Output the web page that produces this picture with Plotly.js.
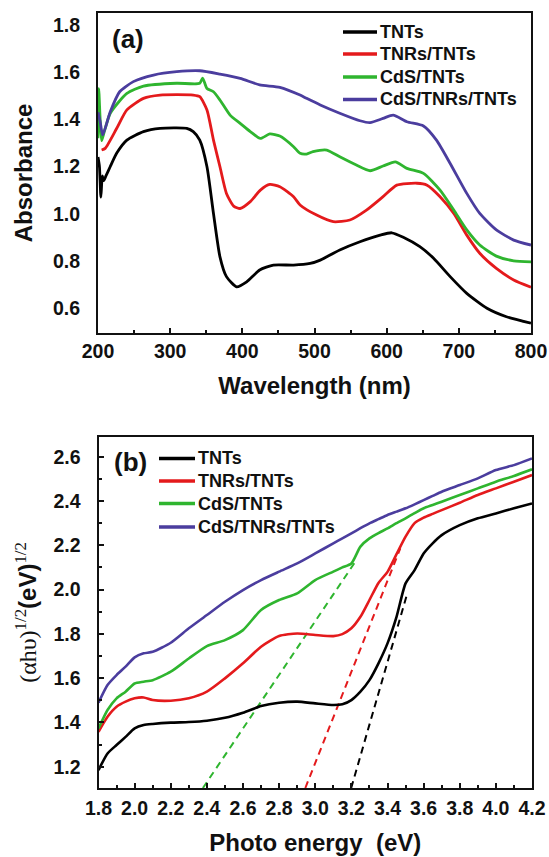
<!DOCTYPE html>
<html>
<head>
<meta charset="utf-8">
<script src="https://cdn.plot.ly/plotly-3.0.1.min.js"></script>
<style>html,body{margin:0;padding:0;background:#fff;}#chart{width:549px;height:857px;}</style>
</head>
<body>
<div id="chart"></div>
<script>
// ---------- Panel (a): absorbance vs wavelength ----------
const seriesNames = ["TNTs", "TNRs/TNTs", "CdS/TNTs", "CdS/TNRs/TNTs"];
const seriesColors = ["#000000", "#e41a1c", "#2fb52f", "#4b3d9e"];

const tntsWl = [200,202,204,206,208,211,217,226,240,263,286,323,332,341,351,360,369,378,392,406,424,443,471,494,508,535,563,591,607,623,646,665,688,711,739,766,800];
const tntsAbs = [1.24,1.20,1.07,1.16,1.14,1.16,1.20,1.257,1.312,1.348,1.362,1.362,1.348,1.312,1.199,1.001,0.817,0.733,0.69,0.711,0.761,0.782,0.782,0.789,0.803,0.846,0.881,0.909,0.919,0.90,0.86,0.811,0.733,0.662,0.599,0.563,0.536];

const tnrsWl = [205,210,226,240,263,286,332,341,351,360,369,378,388,397,411,425,438,452,471,480,503,526,549,572,595,614,642,656,674,693,711,729,752,776,800];
const tnrsAbs = [1.27,1.277,1.362,1.44,1.489,1.503,1.503,1.496,1.44,1.312,1.199,1.086,1.032,1.022,1.051,1.10,1.124,1.114,1.072,1.037,0.994,0.966,0.973,1.015,1.072,1.121,1.129,1.121,1.072,1.001,0.909,0.832,0.768,0.719,0.688];

const cdsWl = [200,201,203,205,208,217,240,263,309,341,345,351,360,369,383,397,411,425,438,452,471,480,489,498,517,535,558,577,595,612,628,651,674,693,711,729,752,776,800];
const cdsAbs = [1.32,1.53,1.40,1.31,1.34,1.426,1.51,1.541,1.553,1.553,1.575,1.531,1.517,1.482,1.418,1.383,1.348,1.319,1.338,1.329,1.284,1.256,1.253,1.263,1.27,1.241,1.206,1.182,1.202,1.22,1.192,1.171,1.10,1.015,0.931,0.867,0.82,0.80,0.796];

const cdsTnrsWl = [200,203,206.5,217,230,249,277,309,341,369,397,424,452,480,489,508,535,563,577,595,609,628,651,669,688,711,729,752,776,800];
const cdsTnrsAbs = [1.43,1.39,1.334,1.432,1.517,1.56,1.588,1.602,1.606,1.592,1.574,1.546,1.536,1.503,1.489,1.461,1.426,1.394,1.386,1.404,1.418,1.39,1.372,1.312,1.213,1.086,1.001,0.931,0.888,0.867];

// ---------- Panel (b): Tauc plot ----------
const energy = [1.8,1.85,1.9,1.95,2.0,2.05,2.1,2.2,2.3,2.4,2.5,2.6,2.7,2.8,2.9,3.0,3.1,3.15,3.2,3.25,3.3,3.35,3.4,3.45,3.5,3.55,3.6,3.65,3.7,3.8,3.9,4.0,4.1,4.2];
const taucTNTs = [1.185,1.26,1.298,1.335,1.373,1.388,1.393,1.399,1.402,1.408,1.421,1.444,1.474,1.489,1.494,1.486,1.479,1.482,1.501,1.539,1.591,1.667,1.757,1.877,2.028,2.088,2.163,2.209,2.246,2.291,2.322,2.344,2.367,2.389];
const taucTNRs = [1.358,1.426,1.471,1.494,1.509,1.513,1.501,1.498,1.509,1.539,1.599,1.667,1.742,1.79,1.802,1.795,1.79,1.799,1.825,1.877,1.953,2.03,2.08,2.16,2.239,2.30,2.325,2.342,2.359,2.392,2.427,2.457,2.487,2.517];
const taucCdS = [1.373,1.456,1.509,1.539,1.576,1.584,1.591,1.629,1.689,1.745,1.772,1.817,1.908,1.953,1.983,2.043,2.081,2.10,2.118,2.194,2.231,2.255,2.276,2.30,2.322,2.345,2.367,2.382,2.397,2.427,2.457,2.487,2.513,2.543];
const taucCdSTNRs = [1.489,1.569,1.614,1.652,1.694,1.712,1.719,1.76,1.825,1.885,1.945,1.998,2.043,2.081,2.118,2.163,2.209,2.231,2.254,2.277,2.299,2.318,2.337,2.352,2.367,2.385,2.404,2.423,2.442,2.472,2.502,2.54,2.562,2.592];

// Linear extrapolation (band-gap) lines: [start, end]
const fitCdSE = [2.378, 3.222];   const fitCdSY = [1.104, 2.126];
const fitTNRsE = [2.945, 3.471];  const fitTNRsY = [1.104, 2.186];
const fitTNTsE = [3.199, 3.505];  const fitTNTsY = [1.104, 1.97];

const SANS = "Liberation Sans, Arial, sans-serif";
const SERIF = "Liberation Serif, Times New Roman, serif";
const INK = "#111";

const topX = [tntsWl, tnrsWl, cdsWl, cdsTnrsWl];
const topY = [tntsAbs, tnrsAbs, cdsAbs, cdsTnrsAbs];
const botY = [taucTNTs, taucTNRs, taucCdS, taucCdSTNRs];

const traces = [];
for (let i = 0; i < 4; i++) {
  traces.push({
    x: topX[i], y: topY[i], type: "scatter", mode: "lines", name: seriesNames[i], showlegend: false,
    line: {color: seriesColors[i], width: 2.8, shape: "spline", smoothing: 0.6},
    xaxis: "x", yaxis: "y"
  });
}
const fits = [[fitTNTsE, fitTNTsY, 0], [fitTNRsE, fitTNRsY, 1], [fitCdSE, fitCdSY, 2]];
fits.forEach(f => traces.push({
  x: f[0], y: f[1], type: "scatter", mode: "lines", showlegend: false,
  line: {color: seriesColors[f[2]], width: 2, dash: "7px,5px"},
  xaxis: "x2", yaxis: "y2"
}));
for (let i = 0; i < 4; i++) {
  traces.push({
    x: energy, y: botY[i], type: "scatter", mode: "lines", name: seriesNames[i], showlegend: false,
    line: {color: seriesColors[i], width: 2.6, shape: "spline", smoothing: 0.6},
    xaxis: "x2", yaxis: "y2"
  });
}

const tickFont = {family: SANS, size: 19.5, color: INK, weight: "bold"};
const axBase = {
  showgrid: false, zeroline: false, showline: true, linecolor: INK, linewidth: 2,
  mirror: true, tickfont: tickFont, ticks: "inside", tickcolor: INK, tickwidth: 2, ticklen: 5
};

const W = 549, H = 857;

// Hand-placed legends (pixel positions of the reference legend boxes)
const shapes = [], annotations = [];
function addLegend(lineX0, lineX1, textX, rowsY) {
  for (let i = 0; i < seriesNames.length; i++) {
    const yp = 1 - rowsY[i] / H;
    shapes.push({type: "line", xref: "paper", yref: "paper", x0: lineX0 / W, x1: lineX1 / W, y0: yp, y1: yp,
                 line: {color: seriesColors[i], width: 3.5}});
    annotations.push({text: seriesNames[i], xref: "paper", yref: "paper", x: textX / W, y: yp,
                      xanchor: "left", yanchor: "middle", showarrow: false,
                      font: {family: SANS, size: 18, color: INK, weight: "bold"}});
  }
}
addLegend(343, 377, 378, [32, 54, 77, 99.5]);
addLegend(159, 195, 196, [458.5, 481, 503.5, 527]);

annotations.push(
  {text: "(a)", xref: "x domain", yref: "y domain", x: 0.028, y: 0.92, xanchor: "left", yanchor: "middle",
   showarrow: false, font: {family: SANS, size: 26, color: INK, weight: "bold"}},
  {text: "(b)", xref: "x2 domain", yref: "y2 domain", x: 0.03, y: 0.928, xanchor: "left", yanchor: "middle",
   showarrow: false, font: {family: SANS, size: 26, color: INK, weight: "bold"}}
);

const layout = {
  width: W, height: H,
  margin: {l: 0, r: 0, t: 0, b: 0},
  paper_bgcolor: "#fff", plot_bgcolor: "#fff",
  showlegend: false,
  xaxis: Object.assign({}, axBase, {
    domain: [98/W, 531/W], anchor: "y", range: [200, 800], dtick: 100, tick0: 0,
    minor: {dtick: 50, ticks: "inside", ticklen: 3, tickwidth: 2, tickcolor: INK},
    ticklabelstandoff: 0,
    title: {text: "Wavelength (nm)", font: {family: SANS, size: 24, color: INK, weight: "bold"}, standoff: 16}
  }),
  yaxis: Object.assign({}, axBase, {
    domain: [1 - 333/H, 1 - 13/H], anchor: "x", range: [0.494, 1.851], dtick: 0.2, tick0: 0,
    tickformat: ".1f", ticks: "", ticklabelstandoff: 12,
    title: {text: "Absorbance", font: {family: SANS, size: 24, color: INK, weight: "bold"}, standoff: 14}
  }),
  xaxis2: Object.assign({}, axBase, {
    domain: [98.5/W, 532/W], anchor: "y2", range: [1.8, 4.2], dtick: 0.2, tick0: 0,
    tickformat: ".1f",
    minor: {dtick: 0.1, ticks: "inside", ticklen: 3, tickwidth: 2, tickcolor: INK},
    ticklabelstandoff: 2,
    title: {text: "Photo energy  (eV)", font: {family: SANS, size: 24, color: INK, weight: "bold"}, standoff: 16}
  }),
  yaxis2: Object.assign({}, axBase, {
    domain: [1 - 788/H, 1 - 437/H], anchor: "x2", range: [1.104, 2.689], dtick: 0.2, tick0: 0,
    tickformat: ".1f",
    minor: {dtick: 0.1, ticks: "inside", ticklen: 3, tickwidth: 2, tickcolor: INK},
    ticklabelstandoff: 12,
    title: {
      text: '<span style="font-family:' + SERIF + ';font-weight:normal">(αhυ)<sup>1/2</sup></span>(eV)<span style="font-family:' + SERIF + ';font-weight:normal"><sup>1/2</sup></span>',
      font: {family: SANS, size: 24, color: INK, weight: "bold"}, standoff: 10
    }
  }),
  shapes: shapes,
  annotations: annotations
};

Plotly.newPlot("chart", traces, layout, {displayModeBar: false, staticPlot: true});
</script>
</body>
</html>
